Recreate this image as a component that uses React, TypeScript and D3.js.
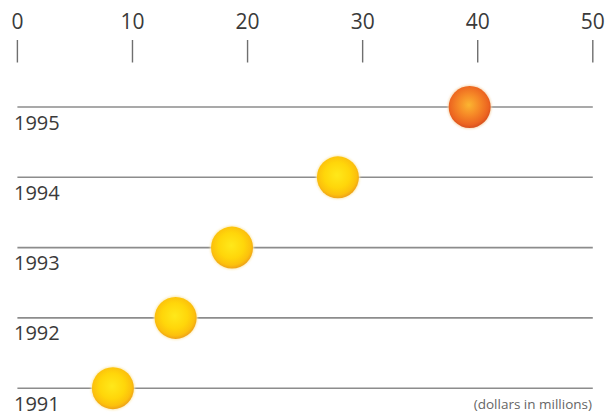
import React from "react";
import * as d3 from "d3";

const years = ["1995", "1994", "1993", "1992", "1991"];
const values = [39.3, 27.85, 18.65, 13.75, 8.3];
const tickValues = [0, 10, 20, 30, 40, 50];
const unitNote = "(dollars in millions)";

const W = 606;
const H = 416;

export default function App() {
  const x = d3.scaleLinear().domain([0, 50]).range([17.4, 592.8]);
  const y = d3.scalePoint<string>().domain(years).range([107, 388.2]);
  const font = "'Open Sans', 'DejaVu Sans', sans-serif";

  return (
    <svg
      width={W}
      height={H}
      style={{ position: "absolute", left: 0, top: 0, background: "#fff" }}
    >
      <defs>
        <radialGradient id="gYellow" cx="0.48" cy="0.45" r="0.55">
          <stop offset="0%" stopColor="#ffe81a" />
          <stop offset="55%" stopColor="#ffd60a" />
          <stop offset="85%" stopColor="#fcc00c" />
          <stop offset="100%" stopColor="#eea21a" />
        </radialGradient>
        <radialGradient id="gOrange" cx="0.48" cy="0.45" r="0.55">
          <stop offset="0%" stopColor="#fbb531" />
          <stop offset="45%" stopColor="#f68a27" />
          <stop offset="85%" stopColor="#ec6420" />
          <stop offset="100%" stopColor="#d8501e" />
        </radialGradient>
        <filter id="glow" x="-30%" y="-30%" width="160%" height="160%">
          <feGaussianBlur stdDeviation="0.8" />
        </filter>
      </defs>

      {tickValues.map((t) => (
        <g key={t}>
          <text
            x={x(t)}
            y={28.5}
            textAnchor="middle"
            fontFamily={font}
            fontSize={21}
            fill="#3a3a3a"
          >
            {t}
          </text>
          <line
            x1={x(t)}
            x2={x(t)}
            y1={40}
            y2={62.5}
            stroke="#6f6f6f"
            strokeWidth={1.4}
          />
        </g>
      ))}

      {years.map((yr, i) => {
        const cy = y(yr) as number;
        return (
          <g key={yr}>
            <line
              x1={x(0)}
              x2={x(50)}
              y1={cy}
              y2={cy}
              stroke="#8c8c8c"
              strokeWidth={1.6}
            />
            <text
              x={14}
              y={cy + 22.5}
              fontFamily={font}
              fontSize={20}
              fill="#3a3a3a"
            >
              {yr}
            </text>
            <circle
              cx={x(values[i])}
              cy={cy}
              r={21.8}
              fill={i === 0 ? "#f5d7b0" : "#fbeab0"}
              filter="url(#glow)"
            />
            <circle
              cx={x(values[i])}
              cy={cy}
              r={21}
              fill={i === 0 ? "url(#gOrange)" : "url(#gYellow)"}
            />
          </g>
        );
      })}

      <text
        x={592}
        y={409}
        textAnchor="end"
        fontFamily={font}
        fontSize={13.5}
        fill="#666"
      >
        {unitNote}
      </text>
    </svg>
  );
}
